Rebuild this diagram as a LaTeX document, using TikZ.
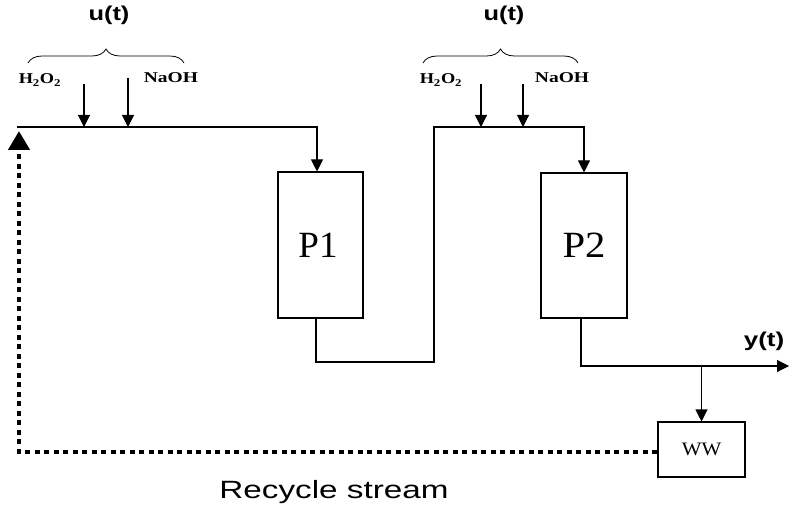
\documentclass[tikz,border=0pt]{standalone}
\usepackage{fontspec}
\setmainfont{Liberation Serif}
\setsansfont{Liberation Sans}
\usetikzlibrary{arrows.meta,decorations.pathreplacing}
\begin{document}
\begin{tikzpicture}[x=1pt,y=-1pt,
  flow/.style={line width=1.1pt},
  arr/.style={flow,-{Triangle[width=12pt,length=12pt]}},
  unit/.style={draw,line width=1.1pt,inner sep=0pt},
  chem/.style={font=\bfseries\fontsize{15}{15}\selectfont},
  sig/.style={font=\sffamily\bfseries\fontsize{20}{20}\selectfont},
  brc/.style={line width=0.8pt,decorate,decoration={brace,amplitude=14pt}},
  recyc/.style={line width=4.5pt,dash pattern=on 5pt off 4.5pt,-{Triangle[width=21pt,length=19pt]}}
]
\useasboundingbox (0,0) rectangle (789,513);
% units
\node[unit,minimum width=85pt,minimum height=146pt,font=\fontsize{37}{37}\selectfont] (P1) at (320.5,245) {\hspace*{-5pt}\raisebox{-2.5pt}{P1}};
\node[unit,minimum width=86pt,minimum height=145pt,font=\fontsize{37}{37}\selectfont] (P2) at (584,245.5) {\raisebox{-2.5pt}{\scalebox{1.1}[1]{P2}}};
\node[unit,minimum width=87pt,minimum height=55pt,font=\fontsize{19}{19}\selectfont] (WW) at (701.5,449.5) {\scalebox{1.1}[1]{WW}};
% labels
\node[sig] (u1) at (109,15) {\scalebox{1.27}[1]{u(t)}};
\node[sig] (u2) at (504,15) {\scalebox{1.27}[1]{u(t)}};
\node[sig] (yt) at (764,341) {\scalebox{1.3}[1]{y(t)}};
\node[chem] (h1) at (40,80) {\scalebox{1.22}[1]{H\textsubscript{2}O\textsubscript{2}}};
\node[chem] (n1) at (171,78) {\scalebox{1.3}[1]{NaOH}};
\node[chem] (h2) at (441,80) {\scalebox{1.22}[1]{H\textsubscript{2}O\textsubscript{2}}};
\node[chem] (n2) at (562,78) {\scalebox{1.3}[1]{NaOH}};
\node[font=\sffamily\fontsize{25}{25}\selectfont] (rs) at (334,492) {\scalebox{1.33}[1]{Recycle stream}};
% braces
\coordinate (bl1) at (28,63); \coordinate (br1) at (184,63);
\coordinate (bl2) at (423,63); \coordinate (br2) at (578,63);
\draw[brc] (bl1) -- (br1);
\draw[brc] (bl2) -- (br2);
% chemical feed arrows
\coordinate (ha1) at (84,84);  \coordinate (hb1) at (84,127);
\coordinate (na1) at (128,78); \coordinate (nb1) at (128,127);
\coordinate (ha2) at (481,84); \coordinate (hb2) at (481,127);
\coordinate (na2) at (523,84); \coordinate (nb2) at (523,127);
\draw[arr] (ha1) -- (hb1);
\draw[arr] (na1) -- (nb1);
\draw[arr] (ha2) -- (hb2);
\draw[arr] (na2) -- (nb2);
% main stream
\coordinate (r0) at (17,127);
\coordinate (k1) at (317,127);
\draw[arr] (r0) -- (k1) -- (k1 |- P1.north);
\coordinate (j1) at (434,362);
\coordinate (m1) at (434,127);
\coordinate (k2) at (584,127);
\draw[arr] ([xshift=-4.5pt]P1.south) |- (j1) -- (m1) -- (k2) -- (k2 |- P2.north);
\coordinate (yend) at (789,366);
\draw[arr] ([xshift=-3pt]P2.south) |- (yend);
\coordinate (br) at (701.5,366);
\draw[arr] (br) -- (WW.north);
% recycle
\coordinate (rc) at (19,131);
\draw[recyc] ([yshift=-2.5pt]WW.west) -| (rc);
\end{tikzpicture}
\end{document}
